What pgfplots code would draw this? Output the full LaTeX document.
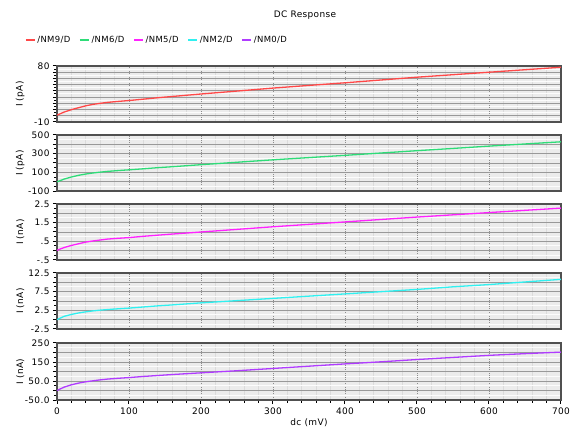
\documentclass[border=0pt]{standalone}
\usepackage{pgfplots}
\pgfplotsset{compat=1.18}
\usepackage{fontspec}
\setmainfont{DejaVu Sans}[LetterSpace=4]
\definecolor{cRed}{HTML}{FF4848}
\definecolor{cGreen}{HTML}{2EDC78}
\definecolor{cMag}{HTML}{FF22FF}
\definecolor{cCyan}{HTML}{30F0F0}
\definecolor{cPur}{HTML}{B03CFF}
\definecolor{bgc}{HTML}{ECECEC}
\definecolor{framec}{HTML}{505050}
\pgfplotsset{
 panel/.style={
  scale only axis, width=504bp, height=56bp, anchor=north west,
  xmin=0, xmax=700,
  axis background/.style={fill=bgc},
  xtick={0,100,200,300,400,500,600,700}, minor x tick num=4,
  xmajorgrids, xminorgrids, ymajorgrids, yminorgrids,
  minor y tick num=1,
  major x grid style={draw=black!45, dash pattern=on 1bp off 1bp, line width=0.8bp},
  minor x grid style={draw=black!14, line width=0.8bp},
  major y grid style={draw=black!40, line width=0.9bp},
  minor y grid style={draw=white!85!bgc, line width=1bp},
  axis line style={draw=framec, line width=1.4bp},
  tick align=outside,
  major tick length=4bp, minor tick length=2.5bp,
  tick style={black, line width=1bp},
  ytick pos=left, xtick pos=bottom,
  every tick label/.append style={font=\fontsize{9}{9}\selectfont},
  ylabel style={at={(axis description cs:-0.073,0.5)}, anchor=center, font=\fontsize{9}{9}\selectfont},
  xticklabels={},
  every axis plot/.append style={line width=1.3bp, mark=none},
 },
 nox/.style={xtick style={draw=none}},
}
\begin{document}
\begin{tikzpicture}
\useasboundingbox (0,0) rectangle (576bp,429bp);
\node[font=\fontsize{9}{9}\selectfont] at (305bp,414bp) {DC Response};
% Panel 1
\begin{axis}[panel, nox, at={(57bp,363bp)}, ymin=-10, ymax=80,
  ytick={-10,0,10,20,30,40,50,60,70,80}, yticklabels={-10,,,,,,,,,80},
  ylabel={I (pA)},
  legend columns=5,
  legend style={at={(axis description cs:-0.0635,1.464)}, anchor=west, draw=none, fill=none,
    font=\fontsize{8.5}{9}\selectfont, inner sep=0pt,
    /tikz/every even column/.append style={column sep=7bp}},
  legend image code/.code={\draw[#1, line width=1.2bp] (0bp,0bp) -- (9bp,0bp);},
]
\addplot[cRed] coordinates {(0,1) (10,6) (20,9.8) (30,13) (40,16) (50,18.3) (60,20) (70,21.5) (80,22.6) (100,24.5) (120,26.7) (140,29) (160,31) (200,35) (250,39.7) (300,44.5) (350,48.8) (400,53) (450,57.5) (500,62) (550,66) (600,70) (650,74) (700,78)};
\addlegendentry{/NM9/D}
\addlegendimage{cGreen}\addlegendentry{/NM6/D}
\addlegendimage{cMag}\addlegendentry{/NM5/D}
\addlegendimage{cCyan}\addlegendentry{/NM2/D}
\addlegendimage{cPur}\addlegendentry{/NM0/D}
\end{axis}
% Panel 2
\begin{axis}[panel, nox, at={(57bp,294bp)}, ymin=-100, ymax=500,
  ytick={-100,0,100,200,300,400,500}, yticklabels={-100,,100,,300,,500},
  ylabel={I (pA)}]
\addplot[cGreen] coordinates {(0,-2) (10,28) (20,50) (30,68) (40,82) (50,93) (60,102) (70,110) (80,116) (100,127) (120,138) (140,150) (160,160) (200,182) (250,208) (300,234) (350,258) (400,282) (450,307) (500,332) (550,356) (600,381) (650,404) (700,427)};
\end{axis}
% Panel 3
\begin{axis}[panel, nox, at={(57bp,225bp)}, ymin=-0.5, ymax=2.5,
  ytick={-0.5,0,0.5,1,1.5,2,2.5}, yticklabels={-.5,,.5,,1.5,,2.5},
  ylabel={I (nA)}]
\addplot[cMag] coordinates {(0,0.02) (10,0.17) (20,0.28) (30,0.37) (40,0.46) (50,0.52) (60,0.57) (70,0.62) (80,0.65) (100,0.70) (120,0.77) (140,0.83) (160,0.89) (200,1.0) (250,1.14) (300,1.28) (350,1.41) (400,1.54) (450,1.67) (500,1.80) (550,1.92) (600,2.04) (650,2.16) (700,2.28)};
\end{axis}
% Panel 4
\begin{axis}[panel, nox, at={(57bp,156bp)}, ymin=-2.5, ymax=12.5,
  ytick={-2.5,0,2.5,5,7.5,10,12.5}, yticklabels={-2.5,,2.5,,7.5,,12.5},
  ylabel={I (nA)}]
\addplot[cCyan] coordinates {(0,0) (10,0.9) (20,1.4) (30,1.8) (40,2.1) (50,2.35) (60,2.55) (70,2.7) (80,2.85) (100,3.1) (120,3.4) (140,3.7) (160,3.95) (200,4.5) (250,5.1) (300,5.7) (350,6.3) (400,6.9) (450,7.5) (500,8.1) (550,8.8) (600,9.4) (650,10.1) (700,10.8)};
\end{axis}
% Panel 5
\begin{axis}[panel, at={(57bp,86bp)}, height=57bp, ymin=-50, ymax=250,
  ytick={-50,0,50,100,150,200,250}, yticklabels={-50.0,,50.0,,150,,250},
  xticklabels={0,100,200,300,400,500,600,700},
  ylabel={I (nA)}, xlabel={dc (mV)},
  xlabel style={font=\fontsize{9}{9}\selectfont, yshift=2bp}]
\addplot[cPur] coordinates {(0,0) (10,18) (20,30) (30,39) (40,46) (50,51) (60,56) (70,60) (80,63) (100,68) (120,74) (140,79) (160,84) (200,93) (250,104) (300,116) (350,128) (400,140) (450,151) (500,163) (550,174) (600,185) (650,194) (700,202)};
\end{axis}
\end{tikzpicture}
\end{document}
